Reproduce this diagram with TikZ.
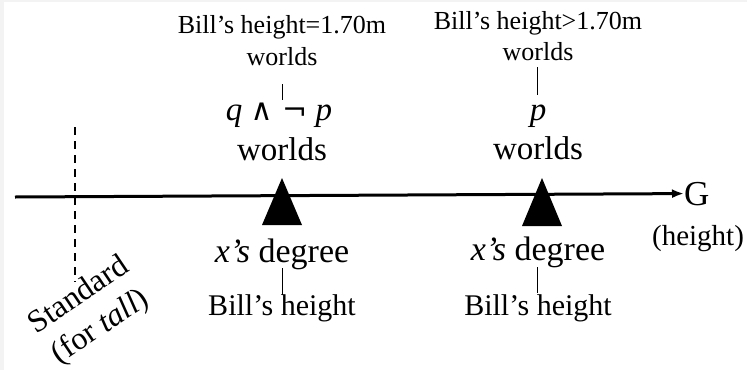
\documentclass[tikz,border=0pt]{standalone}
\usepackage{fontspec}
\setmainfont{Liberation Serif}
\newfontfamily\symfont{DejaVu Serif}
\usetikzlibrary{arrows.meta}
\definecolor{edgegray}{RGB}{243,243,243}
\tikzset{
  big/.style={font=\fontsize{33}{36}\selectfont, inner sep=0pt, anchor=base},
  deg/.style={font=\fontsize{34}{36}\selectfont, inner sep=0pt, anchor=base},
  mid/.style={font=\fontsize{30}{33}\selectfont, inner sep=0pt, anchor=base},
  small/.style={font=\fontsize{26}{28}\selectfont, inner sep=0pt, anchor=base},
  tick/.style={line width=1pt},
  marker/.style={fill=black},
}
\begin{document}
\begin{tikzpicture}[x=1pt,y=-1pt]
\useasboundingbox (0,0) rectangle (747,370);
\fill[edgegray] (0,0) rectangle (747,2);
\fill[edgegray] (0,0) rectangle (4,370);
% axis
\coordinate (a0) at (15,197);
\node[mid, anchor=base west, font=\fontsize{35}{38}\selectfont] (G) at (684,205) {G};
\node[mid, font=\fontsize{29}{32}\selectfont] (gh) at (698,245) {(height)};
\draw[line width=3pt, -{Latex[length=12pt,width=9pt]}] (a0) -- (G.west);
% standard
\coordinate (s0) at (75,127);
\coordinate (s1) at (75,282);
\draw[line width=2pt, dash pattern=on 8pt off 6pt] (s0) -- (s1);
\node[font=\fontsize{32}{38}\selectfont, align=center, rotate=34, inner sep=0pt] (std) at (90,312) {Standard\\(for \textit{tall})};
% triangles
\path[marker] (282,178) coordinate (t1a) -- (302,225) coordinate (t1b) -- (262,225) coordinate (t1c) -- cycle;
\path[marker] (542,178) coordinate (t2a) -- (562,226) coordinate (t2b) -- (522,226) coordinate (t2c) -- cycle;
% left column
\node[small] (l1) at (282,33) {Bill's height=1.70m};
\node[small] (l2) at (282,65) {worlds};
\coordinate (l2t) at (282,84);
\coordinate (l3t) at (282,100);
\draw[tick] (l2t) -- (l3t);
\node[big] (l3) at (279,120) {\textit{q} {\symfont\fontsize{30}{32}\selectfont ∧ ¬} \textit{p}};
\node[big] (l4) at (282,160) {worlds};
\node[deg] (l5) at (282,262) {\textit{x's} degree};
\coordinate (l5t) at (282,268);
\coordinate (l6t) at (282,295);
\draw[tick] (l5t) -- (l6t);
\node[mid] (l6) at (282,315) {Bill's height};
% right column
\node[small] (r1) at (538,29) {Bill's height>1.70m};
\node[small] (r2) at (538,60) {worlds};
\coordinate (r2t) at (537,67);
\coordinate (r3t) at (537,95);
\draw[tick] (r2t) -- (r3t);
\node[big] (r3) at (538,120) {\textit{p}};
\node[big] (r4) at (538,159) {worlds};
\node[deg] (r5) at (538,260) {\textit{x's} degree};
\coordinate (r5t) at (537,267);
\coordinate (r6t) at (537,293);
\draw[tick] (r5t) -- (r6t);
\node[mid] (r6) at (538,315) {Bill's height};
\end{tikzpicture}
\end{document}
